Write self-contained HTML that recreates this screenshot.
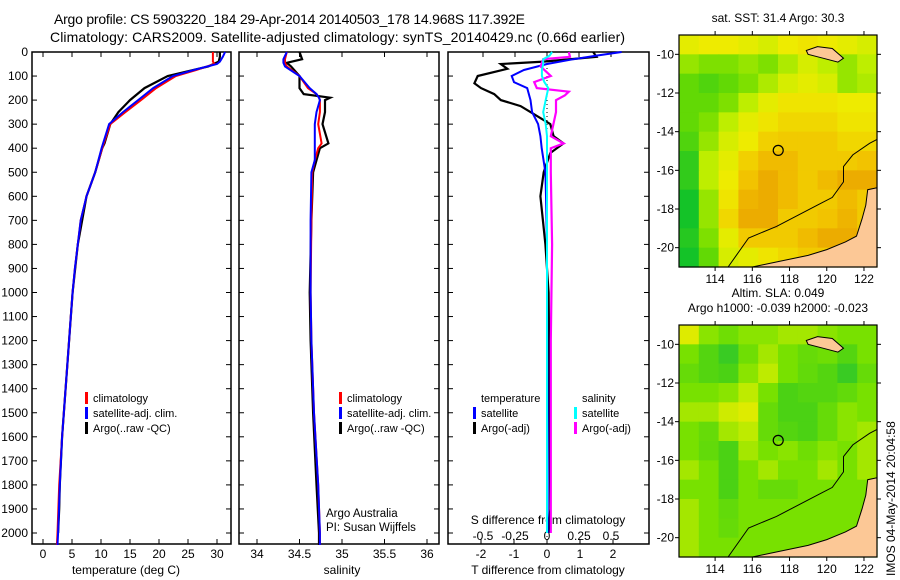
<!DOCTYPE html>
<html><head><meta charset="utf-8"><style>
html,body{margin:0;padding:0;background:#fff}
svg{display:block;font-family:"Liberation Sans",sans-serif}
</style></head><body>
<svg id="c" width="900" height="580" viewBox="0 0 900 580" xmlns="http://www.w3.org/2000/svg"></svg>
<script>
// ---- data ----
const depthT = [0,20,40,50,75,100,150,200,250,300,400,500,600,700,800,900,1000,1100,1200,1400,1600,1800,2000,2050];
const tempSat = [31.4,31,30.5,30,26,22.4,19,16.4,13.8,11.4,10.1,9,7.5,6.5,6,5.5,5.1,4.8,4.5,3.9,3.3,2.9,2.6,2.5];
const tempClim = [29.3,29.3,29.3,29.6,26.4,22.9,19.5,16.9,14.2,11.6,10.2,9,7.5,6.5,6,5.5,5.1,4.8,4.5,3.9,3.3,2.8,2.5,2.4];
const depthTA = [0,20,40,60,100,150,200,250,300,380,400,500,600,800,1000,1200,1400,1600,1800,1900,2000];
const tempArgo = [30.5,30.5,30.3,28.5,21.5,17.5,15,13,11.6,10.6,10.2,9,7.5,6,5.1,4.5,3.9,3.3,2.9,2.8,2.6];

const depthS = [0,30,45,60,100,150,175,190,200,250,300,380,400,450,500,700,1000,1200,1500,1800,2000,2050];
const salSat = [34.35,34.31,34.31,34.33,34.5,34.62,34.7,34.73,34.74,34.70,34.68,34.68,34.68,34.68,34.64,34.63,34.63,34.64,34.67,34.72,34.74,34.74];
const salClim = [34.35,34.33,34.33,34.35,34.5,34.6,34.7,34.73,34.74,34.74,34.72,34.76,34.72,34.68,34.65,34.64,34.63,34.64,34.67,34.72,34.74,34.74];
const salArgo = [34.5,34.53,34.35,34.4,34.5,34.5,34.55,34.86,34.8,34.8,34.77,34.84,34.74,34.7,34.66,34.64,34.62,34.63,34.66,34.7,34.73,34.73];

const depthD = [0,15,30,50,75,100,125,150,200,250,300,350,400,500,600,800,1000,1500,2000];
const tDiffSat = [2.26,1.5,0.8,0,-0.7,-1.07,-1.0,-0.6,-0.5,-0.45,-0.27,-0.2,-0.16,-0.05,-0.03,0,0,0.02,0.02];
const depthDA = [0,20,40,50,70,100,130,150,175,200,225,250,275,300,350,380,420,500,600,800,1000,1500,1900,2000];
const tDiffArgo = [1.4,1.5,-0.1,-1.4,-1.2,-2.1,-2.2,-2.0,-1.6,-1.4,-0.8,-0.5,-0.2,0.1,0.2,0.5,0.1,-0.1,-0.2,-0.05,0.05,0.08,0.1,0.05];
const sDiffSat = [0.04,0.02,-0.03,-0.03,-0.04,-0.04,-0.02,0.01,-0.01,-0.03,-0.01,0,0,0,0,0,0,0,0];
const depthDS = [0,20,30,60,100,125,150,165,180,200,250,300,350,380,400,500,800,1200,2000];
const sDiffArgo = [0.17,0.18,-0.03,-0.05,0.03,-0.1,-0.08,0.17,0.14,0.07,0.07,0.05,0.03,0.13,0.03,0.03,0.04,0.03,0.03];

const depthTicks = [0,100,200,300,400,500,600,700,800,900,1000,1100,1200,1300,1400,1500,1600,1700,1800,1900,2000];
const tempTicks = [0,5,10,15,20,25,30];
const salTicks = [34,34.5,35,35.5,36];
const tDiffTicks = [-2,-1,0,1,2];
const sDiffTicks = [-0.5,-0.25,0,0.25,0.5];
const lonTicks = [114,116,118,120,122];
const latTicks = [-10,-12,-14,-16,-18,-20];

// SST grid (10 cols lon 112.06..122.7, 12 rows lat -9..-21)
const sstGrid = [
[0.58,0.6,0.6,0.58,0.55,0.6,0.62,0.6,0.58,0.55],
[0.45,0.42,0.42,0.45,0.42,0.48,0.55,0.5,0.45,0.5],
[0.38,0.35,0.38,0.42,0.48,0.55,0.58,0.55,0.45,0.48],
[0.38,0.38,0.42,0.5,0.58,0.62,0.62,0.62,0.6,0.6],
[0.38,0.42,0.5,0.58,0.62,0.66,0.66,0.66,0.62,0.62],
[0.35,0.45,0.55,0.6,0.68,0.7,0.7,0.7,0.66,0.66],
[0.3,0.5,0.58,0.68,0.74,0.74,0.7,0.7,0.7,0.72],
[0.3,0.5,0.6,0.72,0.78,0.74,0.7,0.74,0.78,0.78],
[0.25,0.45,0.62,0.76,0.78,0.74,0.7,0.7,0.74,0.7],
[0.25,0.45,0.66,0.78,0.78,0.7,0.7,0.72,0.76,0.7],
[0.28,0.42,0.58,0.7,0.7,0.7,0.74,0.78,0.78,0.7],
[0.25,0.38,0.55,0.58,0.62,0.66,0.7,0.7,0.7,0.7]];
const slaGrid = [
[0.62,0.52,0.48,0.52,0.52,0.55,0.55,0.52,0.5,0.5],
[0.5,0.42,0.35,0.48,0.55,0.5,0.46,0.48,0.42,0.5],
[0.46,0.42,0.4,0.52,0.58,0.5,0.45,0.42,0.35,0.46],
[0.5,0.5,0.52,0.58,0.5,0.4,0.42,0.42,0.45,0.5],
[0.55,0.55,0.6,0.62,0.46,0.4,0.4,0.46,0.52,0.5],
[0.5,0.46,0.55,0.58,0.46,0.42,0.4,0.46,0.52,0.55],
[0.5,0.45,0.4,0.55,0.5,0.52,0.48,0.52,0.5,0.55],
[0.55,0.5,0.4,0.5,0.55,0.5,0.5,0.55,0.5,0.55],
[0.5,0.5,0.4,0.5,0.46,0.46,0.5,0.5,0.5,0.5],
[0.55,0.5,0.45,0.5,0.5,0.5,0.5,0.5,0.5,0.5],
[0.55,0.5,0.46,0.5,0.5,0.5,0.5,0.5,0.5,0.5],
[0.55,0.5,0.5,0.5,0.5,0.5,0.5,0.5,0.5,0.5]];
const landLon = [116,117,118,119,120,121,121.6,121.9,122.1,122.2,122.7,122.7,116];
const landLat = [-21,-20.8,-20.6,-20.4,-20.1,-19.7,-19.4,-18.5,-17.8,-17.0,-16.9,-21,-21];
const shelfLon = [114.7,115.8,117.3,119.5,120.3,120.9,120.9,121.4,122.3,122.7];
const shelfLat = [-21,-19.5,-18.9,-17.8,-17.4,-16.6,-15.8,-15.2,-14.6,-14.4];
const islandLon = [118.9,119.5,120.3,120.9,120.6,119.8,119.0];
const islandLat = [-9.8,-9.6,-9.7,-10.2,-10.4,-10.2,-10.0];
const argoLon = 117.392, argoLat = -14.968;

// ---- helpers ----
const svg = document.getElementById('c');
const NS = 'http://www.w3.org/2000/svg';
function mk(tag, attrs, parent){const e=document.createElementNS(NS,tag);for(const k in attrs)e.setAttribute(k,attrs[k]);(parent||svg).appendChild(e);return e;}
function txt(x,y,s,anchor,size,parent){const e=mk('text',{x:x,y:y,'text-anchor':anchor||'start','font-size':size||12,fill:'#000'},parent);e.textContent=s;return e;}

const yTop=52, yBot=544;
const yD = d => yTop + d*0.2405;
const xT = t => 43 + t*5.8;
const xS = s => 299.5 + (s-34.5)*85;
const xTD = v => 547 + v*33;
const xSD = v => 547 + v*128;

function line(xs,ys,fx,color,w,name,dash){
  const p = xs.map((v,i)=>fx(v).toFixed(1)+','+yD(ys[i]).toFixed(1)).join(' ');
  const e = mk('polyline',{points:p,fill:'none',stroke:color,'stroke-width':w||2});
  if(dash) e.setAttribute('stroke-dasharray',dash);
  
  
}
function panel(x0,x1,name){
  const r = mk('rect',{x:x0,y:yTop,width:x1-x0,height:yBot-yTop,fill:'#fff',stroke:'#000','stroke-width':1.5});
  
  
  depthTicks.forEach(d=>{mk('line',{x1:x0,x2:x0+5,y1:yD(d),y2:yD(d),stroke:'#000'});mk('line',{x1:x1-5,x2:x1,y1:yD(d),y2:yD(d),stroke:'#000'});});
}

// title
const t1 = txt(54,24,'Argo profile: CS 5903220_184 29-Apr-2014 20140503_178 14.968S 117.392E','start',14);
t1.setAttribute('textLength','471');


const t2 = txt(50,42,'Climatology: CARS2009. Satellite-adjusted climatology: synTS_20140429.nc (0.66d earlier)','start',14);
t2.setAttribute('textLength','575');



// panels
panel(32,231,'temperature-panel');
panel(239,439,'salinity-panel');
panel(448,649,'difference-panel');

depthTicks.forEach(d=>{
  const e = txt(28,yD(d)+4,String(d),'end',12);
  
  
});
tempTicks.forEach(t=>{mk('line',{x1:xT(t),x2:xT(t),y1:yBot,y2:yBot-5,stroke:'#000'});mk('line',{x1:xT(t),x2:xT(t),y1:yTop,y2:yTop+5,stroke:'#000'});
  const e=txt(xT(t),558,String(t),'middle',12);
  
  });
salTicks.forEach(s=>{mk('line',{x1:xS(s),x2:xS(s),y1:yBot,y2:yBot-5,stroke:'#000'});mk('line',{x1:xS(s),x2:xS(s),y1:yTop,y2:yTop+5,stroke:'#000'});
  const e=txt(xS(s),558,String(s),'middle',12);
  
  });
tDiffTicks.forEach(v=>{mk('line',{x1:xTD(v),x2:xTD(v),y1:yBot,y2:yBot-5,stroke:'#000'});
  const e=txt(xTD(v),558,String(v),'middle',12);
  
  });
sDiffTicks.forEach(v=>{mk('line',{x1:xSD(v),x2:xSD(v),y1:yTop,y2:yTop+5,stroke:'#000'});
  const e=txt(xSD(v),540,String(v),'middle',12);
  
  });

[[xT(15)-4,574,'temperature (deg C)','temperature-axis-title'],[xS(35),574,'salinity','salinity-axis-title'],[548,574,'T difference from climatology','tdiff-axis-title'],[548,524,'S difference from climatology','sdiff-axis-title']].forEach(a=>{
  const e=txt(a[0],a[1],a[2],'middle',12);
  
  
});
[[326,517,'Argo Australia'],[326,531,'PI: Susan Wijffels']].forEach(a=>{
  const e=txt(a[0],a[1],a[2],'start',11.5);
  
  
});

// profile lines
line(tempArgo,depthTA,xT,'#000',2.2,'temp-argo-line');
line(tempClim,depthT,xT,'#f00',2,'temp-clim-line');
line(tempSat,depthT,xT,'#00f',2,'temp-sat-line');
line(salArgo,depthS,xS,'#000',2.2,'sal-argo-line');
line(salClim,depthS,xS,'#f00',2,'sal-clim-line');
line(salSat,depthS,xS,'#00f',2,'sal-sat-line');
mk('line',{x1:xTD(0),x2:xTD(0),y1:yTop,y2:yBot,stroke:'#000','stroke-dasharray':'1,3'});
line(tDiffArgo,depthDA,xTD,'#000',2.2,'tdiff-argo-line');
line(tDiffSat,depthD,xTD,'#00f',2,'tdiff-sat-line');
line(sDiffArgo,depthDS,xSD,'#f0f',2.2,'sdiff-argo-line');
line(sDiffSat,depthD,xSD,'#0ff',2,'sdiff-sat-line');

// legends
function leg(x,y,color,label,name){
  if(color) mk('rect',{x:x-8,y:y-10,width:3,height:12,fill:color});
  const e=txt(x,y,label,'start',11);
  
  
}
leg(93,402,'#f00','climatology','legend-climatology');
leg(93,417,'#00f','satellite-adj. clim.','legend-satellite');
leg(93,432,'#000','Argo(..raw -QC)','legend-argo');
leg(347,402,'#f00','climatology','legend-climatology-2');
leg(347,417,'#00f','satellite-adj. clim.','legend-satellite-2');
leg(347,432,'#000','Argo(..raw -QC)','legend-argo-2');
leg(481,402,null,'temperature','legend-temperature-header');
leg(481,417,'#00f','satellite','legend-t-satellite');
leg(481,432,'#000','Argo(-adj)','legend-t-argo');
leg(582,402,null,'salinity','legend-salinity-header');
leg(582,417,'#0ff','satellite','legend-s-satellite');
leg(582,432,'#f0f','Argo(-adj)','legend-s-argo');

// maps
const mx0=679, mx1=877, lon0=112.06, lon1=122.7, lat0=-9.0, lat1=-21.0;
function lerpCol(stops,v){
  for(let i=0;i<stops.length-1;i++){const a=stops[i],b=stops[i+1];if(v<=b[0]){const f=Math.max(0,(v-a[0])/(b[0]-a[0]));return 'rgb('+[1,2,3].map(k=>Math.round(a[k]+(b[k]-a[k])*f)).join(',')+')';}}
  const l=stops[stops.length-1];return 'rgb('+l[1]+','+l[2]+','+l[3]+')';
}
const sstStops=[[0,0,175,120],[0.25,20,195,40],[0.4,110,220,0],[0.5,190,238,0],[0.6,238,235,0],[0.72,242,195,0],[0.85,228,145,0]];
const slaStops=[[0.3,40,195,50],[0.4,75,210,20],[0.5,120,225,0],[0.58,190,235,0],[0.64,238,235,0]];
function map(my0,my1,grid,stops,name,title1,title2){
  const X=lon=>mx0+(lon-lon0)/(lon1-lon0)*(mx1-mx0);
  const Y=lat=>my0+(lat-lat0)/(lat1-lat0)*(my1-my0);
  const g=mk('g',{});
  
  
  const rows=grid.length, cols=grid[0].length;
  const cw=(mx1-mx0)/cols, ch=(my1-my0)/rows;
  grid.forEach((row,r)=>row.forEach((v,c)=>{
    mk('rect',{x:mx0+c*cw,y:my0+r*ch,width:cw+0.6,height:ch+0.6,fill:lerpCol(stops,v)},g);
  }));
  const pts=(lo,la)=>lo.map((v,i)=>X(v).toFixed(1)+','+Y(la[i]).toFixed(1)).join(' ');
  mk('polygon',{points:pts(landLon,landLat),fill:'#fcc896',stroke:'#000','stroke-width':1},g);
  mk('polygon',{points:pts(islandLon,islandLat),fill:'#fcc896',stroke:'#000','stroke-width':1},g);
  mk('polyline',{points:pts(shelfLon,shelfLat),fill:'none',stroke:'#000','stroke-width':1},g);
  mk('circle',{cx:X(argoLon),cy:Y(argoLat),r:5,fill:'none',stroke:'#000','stroke-width':1.2},g);
  mk('rect',{x:mx0,y:my0,width:mx1-mx0,height:my1-my0,fill:'none',stroke:'#000','stroke-width':1.2},g);
  lonTicks.forEach(l=>{mk('line',{x1:X(l),x2:X(l),y1:my1,y2:my1+4,stroke:'#000'},g);mk('line',{x1:X(l),x2:X(l),y1:my0,y2:my0-4,stroke:'#000'},g);
    const e=txt(X(l),my1+16,String(l),'middle',12,g);
    
    });
  latTicks.forEach(l=>{mk('line',{x1:mx0-4,x2:mx0,y1:Y(l),y2:Y(l),stroke:'#000'},g);mk('line',{x1:mx1,x2:mx1+4,y1:Y(l),y2:Y(l),stroke:'#000'},g);
    const e=txt(mx0-5,Y(l)+4,String(l),'end',12,g);
    
    });
  const a=txt(778,title2?my0-28:my0-13,title1,'middle',12,g);
  
  
  if(title2){const b=txt(778,my0-13,title2,'middle',12,g);
    
    }
}
map(35,267,sstGrid,sstStops,'sst-map','sat. SST: 31.4 Argo: 30.3');
map(325,557,slaGrid,slaStops,'sla-map','Altim. SLA: 0.049','Argo h1000: -0.039 h2000: -0.023');
const v=txt(0,0,'IMOS 04-May-2014 20:04:58','start',12);
v.setAttribute('transform','translate(895,576) rotate(-90)');


</script>
</body></html>
